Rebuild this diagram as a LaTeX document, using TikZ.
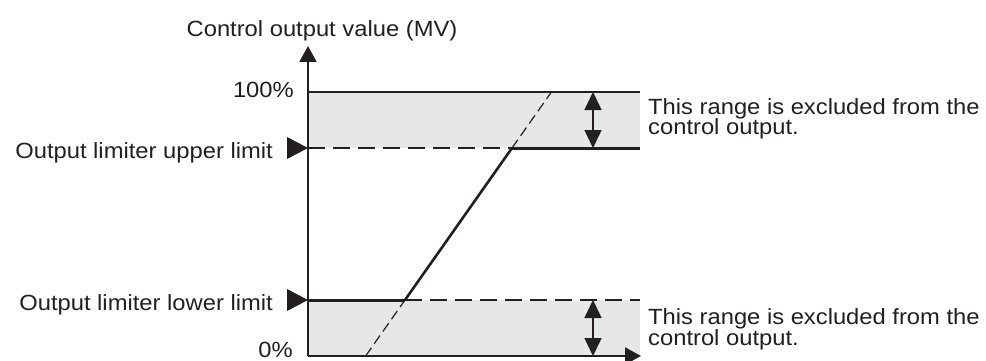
\documentclass[tikz,border=0pt]{standalone}
\usepackage{fontspec}
\setmainfont[FakeStretch=1.08]{Liberation Sans}
\usetikzlibrary{arrows.meta}
\definecolor{ink}{HTML}{231F20}
\definecolor{band}{HTML}{E6E7E8}
\begin{document}
\begin{tikzpicture}[x=1pt,y=-1pt,
  lbl/.style={inner sep=0pt, font=\fontsize{22}{26}\selectfont, text=ink},
  firstline/.style={lbl, anchor=base west},
  secondline/.style={lbl, anchor=base west},
  axisline/.style={draw=ink, line width=2pt, -{Triangle[length=16pt,width=17pt]}},
  rangeline/.style={draw=ink, line width=1.7pt},
  limitline/.style={draw=ink, line width=3pt},
  limitdash/.style={draw=ink, line width=1.4pt, dash pattern=on 17pt off 8pt},
  diagline/.style={draw=ink, line width=2.6pt},
  diagdash/.style={draw=ink, line width=1.2pt, dash pattern=on 10pt off 5pt},
  spanarrow/.style={draw=ink, line width=1.6pt, {Triangle[length=18pt,width=17pt]}-{Triangle[length=18pt,width=17pt]}},
  marker/.style={fill=ink}
]
\useasboundingbox (0,0) rectangle (986,361);
% key coordinates
\coordinate (O) at (308,356);
\coordinate (Ytop) at (308,46);
\coordinate (Xend) at (641,356);
\coordinate (T0) at (308,92);
\coordinate (T1) at (640,92);
\coordinate (U0) at (308,148);
\coordinate (U1) at (640,148);
\coordinate (Uk) at (512,148);
\coordinate (L0) at (308,300);
\coordinate (L1) at (640,300);
\coordinate (Lk) at (405,300);
\coordinate (Dbot) at (365.6,356);
\coordinate (Dtop) at (551.4,92);
\coordinate (A1t) at (593,92);
\coordinate (A1b) at (593,148);
\coordinate (A2t) at (593,300);
\coordinate (A2b) at (593,356);
% bands
\fill[band] (T0) rectangle (U1);
\fill[band] (L0) rectangle (640,356);
% range top line
\draw[rangeline] (T0) -- (T1);
% limit lines
\draw[limitdash] (U0) -- (Uk);
\draw[limitline] (Uk) -- (U1);
\draw[limitline] (L0) -- (Lk);
\draw[limitdash] (Lk) -- (L1);
% characteristic
\draw[diagdash] (Dbot) -- (Lk);
\draw[diagline] (Lk) -- (Uk);
\draw[diagdash] (Uk) -- (Dtop);
% axes
\draw[axisline] (O) -- (Ytop);
\draw[axisline] (O) -- (Xend);
% span arrows
\draw[spanarrow] (A1t) -- (A1b);
\draw[spanarrow] (A2t) -- (A2b);
% markers
\fill[marker] ([shift={(-21,-11)}]U0) -- (U0) -- ([shift={(-21,11)}]U0) -- cycle;
\fill[marker] ([shift={(-21,-11)}]L0) -- (L0) -- ([shift={(-21,11)}]L0) -- cycle;
% labels
\node[lbl, anchor=base] (ylab) at (322,37) {Control output value (MV)};
\node[lbl, anchor=base east] (p100) at (294,97) {100\%};
\node[lbl, anchor=base east] (p0) at (293,357.5) {0\%};
\node[lbl, anchor=base east] (ulab) at (273,158.5) {Output limiter upper limit};
\node[lbl, anchor=base east] (llab) at (273,310.5) {Output limiter lower limit};
\node[firstline] (ut1) at (648,114.5) {This range is excluded from the};
\node[secondline] (ut2) at (648,135) {control output.};
\node[firstline] (lt1) at (648,324.5) {This range is excluded from the};
\node[secondline] (lt2) at (648,345) {control output.};
\end{tikzpicture}
\end{document}
